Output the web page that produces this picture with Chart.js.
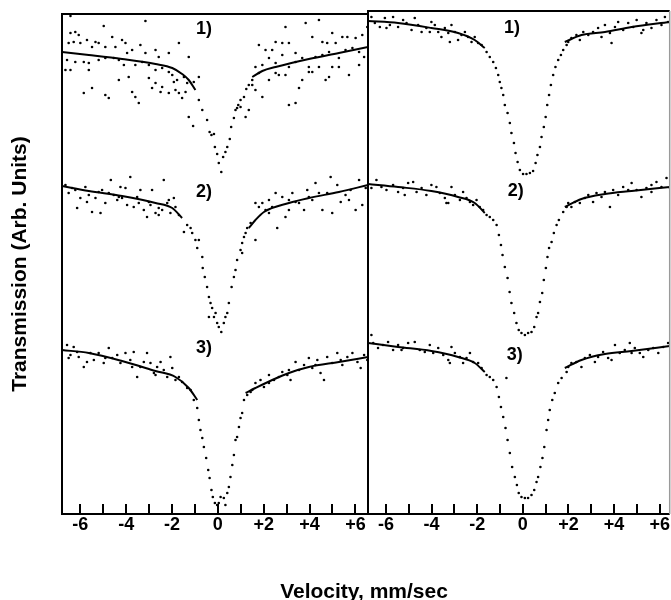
<!DOCTYPE html>
<html><head><meta charset="utf-8">
<script src="https://cdn.jsdelivr.net/npm/chart.js@4.4.1/dist/chart.umd.min.js"></script>
<style>
html,body{margin:0;padding:0;background:#fff;}
#wrap{position:relative;width:671px;height:600px;overflow:hidden;background:#fff;}
canvas{position:absolute;top:0;}
#xt{position:absolute;left:164px;top:580px;width:400px;text-align:center;font:bold 21px/21px "Liberation Sans",Arial,sans-serif;color:#000;white-space:nowrap;}
</style></head><body>
<div id="wrap">
<canvas id="cl" width="370" height="600" style="left:0"></canvas>
<canvas id="cr" width="305" height="600" style="left:366px"></canvas>
<div id="xt">Velocity, mm/sec</div>
</div>
<script>
// ---- axis ticks ----
const tickValues = [-6,-5,-4,-3,-2,-1,0,1,2,3,4,5,6];
const tickLabels = ['-6','','-4','','-2','','0','','+2','','+4','','+6'];
const xTitle = 'Velocity, mm/sec';
const yTitle = 'Transmission (Arb. Units)';
const panelText = ['1)','2)','3)'];
const leftLabelV = [-0.60,-0.60,-0.60];
const leftLabelT = [485,322,166];
const rightLabelV = [-0.48,-0.31,-0.35];
const rightLabelT = [486,323,159];

// ---- LEFT panel, spectrum 1 ----
const L1_v = [-6.43,-6.22,-6.07,-6.51,-6.29,-6.0,-5.71,-5.49,-5.34,-5.20,-4.91,-4.61,-4.47,-4.18,-4.03,-3.96,-3.74,-3.38,-3.16,-2.72,-2.58,-2.14,-1.70,-1.27,
 -6.58,-6.22,-5.85,-5.63,-5.20,-4.91,-4.54,-4.32,-4.10,-3.60,-3.30,-3.01,-2.72,-2.43,-2.14,-1.99,-1.78,-1.48,-1.34,-1.05,-0.83,
 -6.65,-6.43,-5.85,-5.63,-5.49,-4.91,-4.76,-4.32,-3.89,-3.74,-3.60,-3.45,-3.01,-2.87,-2.72,-2.50,-2.43,-2.14,-1.92,-1.85,-1.70,-1.56,-1.41,
 -6.43,-4.98,-3.16,
 -1.27,-1.08,-0.83,-0.68,-0.47,-0.36,-0.28,-0.17,-0.13,-0.03,0.04,0.15,0.23,0.33,0.41,0.52,0.58,0.70,0.77,0.89,0.99,1.14,1.24,1.35,1.50,
 1.79,2.08,2.37,2.52,2.81,2.95,3.10,3.39,3.83,4.12,4.41,4.56,4.77,4.99,5.14,5.43,5.65,6.01,6.30,6.52,
 1.64,1.94,2.23,2.52,2.81,3.10,3.39,3.68,3.97,4.26,4.56,4.85,5.28,5.57,5.87,6.16,6.38,
 1.50,1.64,1.79,1.94,2.23,2.52,2.66,2.95,3.10,3.39,3.54,3.68,3.97,4.12,4.41,4.70,4.85,4.99,5.28,5.72,6.16,1.35,1.21,0.84,0.99];
const L1_t = [481,482,479,471,472,471,474,467,472,471,467,477,467,474,471,461,464,469,461,464,457,461,471,457,
 454,452,452,451,454,456,456,454,449,449,452,449,444,446,442,439,434,437,431,432,437,
 444,444,421,444,426,419,416,434,437,422,417,411,436,426,431,422,427,421,432,424,421,416,422,
 498,488,493,
 397,388,414,404,394,382,379,380,367,360,351,342,357,362,367,375,387,396,404,409,414,417,425,429,434,
 469,464,464,472,471,487,471,461,491,477,494,472,471,481,471,477,477,476,479,487,
 447,449,456,451,459,447,452,456,447,457,459,462,456,464,466,462,457,
 429,424,441,417,434,441,439,439,409,411,426,434,442,442,447,434,437,447,447,439,449,404,397,406,407];
const L1_fit_v = [-6.80,-5.63,-4.18,-2.72,-1.99,-1.56,-1.27,-0.98, 0, 1.50,1.94,2.52,3.97,5.28,6.55];
const L1_fit_t = [462,459,455,450,446,440,434,424, null, 437,443,447,455,461,467];

// ---- LEFT panel, spectrum 2 ----
const L2_v = [-6.65,-6.51,-6.36,-6.14,-6.0,-5.78,-5.63,-5.49,-5.34,-5.12,-5.05,-4.91,-4.67,-4.54,-4.39,-4.25,-4.03,-3.96,-3.82,-3.67,-3.52,-3.38,-3.23,-3.09,-3.01,-2.87,-2.72,-2.58,-2.43,-2.36,-2.21,-2.14,-2.07,-1.92,-1.85,-1.70,-5.20,-4.76,-4.32,-3.45,-2.94,-2.58,-6.22,-5.71,-4.18,
 -1.48,-1.34,-1.19,-1.12,-0.98,-0.90,-0.83,-0.68,-0.66,-0.57,-0.47,-0.39,-0.32,-0.25,-0.39,-0.17,-0.10,-0.03,0.04,0.15,0.26,0.33,0.41,0.48,0.60,0.70,0.77,0.84,0.99,1.06,1.14,1.21,1.28,1.43,1.64,1.06,
 1.64,1.79,2.08,2.23,2.37,2.52,2.59,2.81,2.95,3.10,3.25,3.39,3.54,3.76,3.90,4.12,4.26,4.41,4.56,4.77,4.99,5.21,5.36,5.57,5.79,6.01,6.16,6.30,6.45,4.92,2.23,3.10,3.97,5.72,1.94];
const L2_t = [329,321,326,306,316,327,319,302,316,301,324,311,334,319,314,327,326,309,337,307,317,324,304,297,312,324,301,299,304,334,311,314,301,316,307,299,322,321,317,311,309,306,324,312,316,
 282,289,286,281,274,266,274,257,246,237,227,217,211,206,197,197,201,191,187,182,191,197,201,211,227,237,244,254,264,271,277,281,286,291,274,261,
 311,307,304,301,307,321,286,317,297,304,321,312,311,304,324,314,331,321,304,321,301,329,312,319,324,304,334,309,326,337,314,314,317,314,311];
const L2_fit_v = [-6.80,-5.63,-4.18,-2.72,-1.99,-1.56, 0, 1.35,1.64,2.01,3.10,3.97,5.28,6.55];
const L2_fit_t = [328,323,318,311,306,296, null, 286,294,302,311,316,322,329];

// ---- LEFT panel, spectrum 3 ----
const L3_v = [-6.58,-6.43,-6.29,-6.14,-5.85,-5.71,-5.56,-5.41,-5.20,-4.98,-4.76,-4.61,-4.39,-4.25,-4.03,-3.82,-3.67,-3.52,-3.38,-3.23,-3.09,-2.94,-2.79,-2.65,-2.50,-2.36,-2.21,-2.07,-1.99,-1.85,-1.70,-1.56,-1.34,-2.72,-3.74,-4.91,-6.07,-6.51,
 -1.19,-1.05,-0.90,-0.83,-0.76,-0.68,-0.61,-0.51,-0.42,-0.36,-0.28,-0.22,-0.13,-0.03,0.04,0.12,0.26,0.33,0.41,0.48,0.55,0.63,0.70,0.77,0.84,0.92,0.99,1.06,1.14,1.28,1.43,
 1.50,1.64,1.86,2.01,2.23,2.45,2.66,2.81,3.03,3.17,3.39,3.54,3.76,3.97,4.12,4.34,4.48,4.63,4.77,4.99,5.21,5.43,5.65,5.87,6.09,6.23,6.38,6.52,2.23,3.10,4.26,5.36];
const L3_t = [169,159,167,162,147,152,161,154,161,151,166,156,159,151,161,154,162,137,147,152,161,151,141,147,152,144,137,157,146,134,137,132,126,139,147,156,157,156,
 124,114,106,94,84,76,67,56,44,36,24,17,11,9,11,17,16,9,21,27,37,49,59,74,77,87,96,101,114,119,122,
 124,131,134,127,139,134,137,142,139,134,152,144,149,156,146,154,141,134,157,151,161,149,157,161,152,146,159,154,131,144,149,154];
const L3_fit_v = [-6.80,-5.63,-4.18,-2.72,-1.85,-1.27,-0.90, 0, 1.21,1.64,2.37,3.10,3.97,5.28,6.55];
const L3_fit_t = [164,161,153,143,137,126,114, null, 121,126,134,141,147,152,157];

// ---- RIGHT panel, spectrum 1 ----
const R1_v = [-1.59,-1.45,-1.30,-1.18,-1.08,-1.01,-0.94,-0.86,-0.79,-0.67,-0.57,-0.50,-0.39,-0.32,-0.23,-0.13,0.01,0.16,0.31,0.45,0.56,0.64,0.75,0.82,0.92,1.00,1.07,1.15,1.23,1.33,1.43,1.55,1.67,1.77,1.92,
 -6.64,-6.49,-6.27,-6.05,-5.83,-5.69,-5.47,-5.25,-5.10,-4.88,-4.74,-4.59,-4.44,-4.23,-4.01,-3.86,-3.71,-3.57,-3.42,-3.27,-3.13,-2.98,-2.84,-2.69,-2.54,-2.40,-2.25,-2.11,-1.96,-1.81,-3.20,-4.08,-5.98,
 1.99,2.13,2.35,2.50,2.65,2.87,3.08,3.30,3.45,3.60,3.82,4.04,4.18,4.40,4.62,4.84,4.99,5.20,5.42,5.64,5.86,6.08,6.23,6.37,3.89,5.28];
const R1_t = [462,457,452,446,439,432,426,419,409,401,391,381,371,361,352,344,340,340,341,343,351,359,367,377,387,397,409,419,429,439,447,454,459,464,469,
 497,491,487,496,489,497,487,494,491,484,496,489,482,486,492,489,482,477,486,481,489,482,474,479,482,477,472,477,471,469,472,482,486,
 472,476,479,474,482,479,482,486,477,489,481,487,492,484,491,487,494,481,491,486,494,489,497,492,471,484];
const R1_fit_v = [-6.79,-5.47,-4.01,-2.84,-2.11,-1.67, 0, 1.84,2.57,3.60,4.77,6.44];
const R1_fit_t = [493,491,486,481,474,466, null, 472,479,482,487,492];

// ---- RIGHT panel, spectrum 2 ----
const R2_v = [-1.59,-1.45,-1.30,-1.15,-1.05,-0.96,-0.89,-0.79,-0.67,-0.58,-0.50,-0.38,-0.28,-0.18,-0.06,0.09,0.23,0.38,0.50,0.60,0.67,0.75,0.85,0.92,1.01,1.08,1.15,1.26,1.36,1.48,1.58,1.77,1.92,
 -6.64,-6.42,-6.20,-5.98,-5.69,-5.47,-5.25,-5.03,-4.81,-4.66,-4.44,-4.23,-4.01,-3.79,-3.64,-3.42,-3.27,-3.13,-2.98,-2.76,-2.62,-2.47,-2.32,-2.18,-2.03,-1.89,-1.74,-3.35,-5.18,
 1.99,2.13,2.28,2.50,2.72,2.87,3.08,3.23,3.45,3.60,3.82,3.96,4.18,4.40,4.62,4.77,4.99,5.20,5.42,5.64,5.86,6.08,6.30,6.45,5.64];
const R2_t = [299,297,294,289,279,269,259,247,236,222,211,201,191,184,181,179,181,182,187,197,201,212,221,234,246,257,266,272,281,289,294,302,307,
 326,334,327,324,329,322,326,331,332,322,326,319,329,327,321,316,311,327,319,314,322,316,312,309,314,307,304,311,319,
 311,307,312,311,316,319,312,321,317,322,307,324,319,327,324,331,324,317,326,322,332,327,336,326,329];
const R2_fit_v = [-6.79,-5.47,-4.01,-2.84,-2.11,-1.67, 0, 1.84,2.57,3.60,4.77,6.44];
const R2_fit_t = [330,327,323,317,311,301, null, 307,315,320,323,327];

// ---- RIGHT panel, spectrum 3 ----
const R3_v = [-1.59,-1.45,-1.30,-1.15,-1.05,-0.96,-0.86,-0.76,-0.67,-0.57,-0.47,-0.35,-0.26,-0.18,-0.06,0.09,0.23,0.38,0.50,0.60,0.67,0.77,0.86,0.94,1.04,1.11,1.18,1.29,1.40,1.55,1.70,1.92,-0.72,
 -6.64,-6.56,-6.35,-6.13,-5.91,-5.69,-5.47,-5.25,-5.03,-4.74,-4.52,-4.30,-4.08,-3.93,-3.71,-3.49,-3.27,-3.13,-2.98,-2.76,-2.62,-2.47,-2.32,-2.18,-1.96,-1.81,-3.20,-5.32,
 1.99,2.13,2.35,2.57,2.72,2.94,3.16,3.30,3.52,3.74,3.89,4.04,4.25,4.47,4.69,4.91,5.13,5.28,5.50,5.72,5.94,6.15,6.37,4.77];
const R3_t = [139,137,134,127,117,107,97,86,74,61,47,37,29,21,17,16,16,19,24,32,37,47,56,67,84,94,104,114,121,131,136,142,136,
 179,171,166,169,172,164,169,166,171,172,164,162,169,161,166,159,154,167,161,157,151,156,161,152,151,146,151,164,
 147,151,152,147,156,159,152,157,162,156,154,169,161,164,171,166,161,157,164,166,161,167,171,161];
const R3_fit_v = [-6.79,-5.47,-4.01,-2.84,-2.11,-1.67, 0, 1.84,2.57,3.60,4.77,6.44];
const R3_fit_t = [171,167,163,157,151,142, null, 146,154,160,163,168];

// ---- helpers ----
const FONT = '"Liberation Sans", Arial, Helvetica, sans-serif';
function pts(vs, ts) { return vs.map((v, i) => ({ x: v, y: ts[i] })); }
function scatterDs(vs, ts) {
  return { data: pts(vs, ts), showLine: false, pointRadius: 1.3, pointHoverRadius: 0,
    pointBackgroundColor: '#000', pointBorderWidth: 0, order: 1 };
}
function fitDs(vs, ts) {
  return { data: pts(vs, ts), showLine: true, spanGaps: false, borderColor: '#000', borderWidth: 2,
    pointRadius: 0, tension: 0.4, cubicInterpolationMode: 'monotone', order: 2 };
}

const framePlugin = {
  id: 'frame',
  afterDraw(chart, args, opts) {
    const a = chart.chartArea, ctx = chart.ctx;
    ctx.save();
    ctx.lineWidth = 2;
    ctx.strokeStyle = '#000';
    ctx.beginPath();
    ctx.moveTo(a.right, a.top); ctx.lineTo(a.left, a.top); ctx.lineTo(a.left, a.bottom); ctx.lineTo(a.right, a.bottom);
    ctx.stroke();
    ctx.strokeStyle = opts.rightColor || '#000';
    ctx.lineWidth = opts.rightWidth || 2;
    ctx.beginPath(); ctx.moveTo(a.right, a.top); ctx.lineTo(a.right, a.bottom); ctx.stroke();
    ctx.restore();
  }
};
const labelPlugin = {
  id: 'panelLabels',
  afterDatasetsDraw(chart, args, opts) {
    const ctx = chart.ctx, xs = chart.scales.x, ys = chart.scales.y;
    ctx.save();
    ctx.font = 'bold 18px ' + FONT;
    ctx.fillStyle = '#000';
    ctx.textAlign = 'center';
    ctx.textBaseline = 'middle';
    opts.text.forEach((t, i) => ctx.fillText(t, xs.getPixelForValue(opts.v[i]), ys.getPixelForValue(opts.t[i])));
    ctx.restore();
  }
};

function xScale(min, max) {
  return {
    type: 'linear', position: 'bottom', min: min, max: max,
    afterBuildTicks: (s) => { s.ticks = tickValues.map(v => ({ value: v })); },
    afterFit: (s) => { s.height = 86; s.paddingLeft = 0; s.paddingRight = 0; },
    ticks: {
      autoSkip: false, maxRotation: 0, includeBounds: false, padding: 10, color: '#000',
      font: { family: FONT, size: 18, weight: 'bold' },
      callback: (v) => { const i = tickValues.indexOf(v); return i >= 0 ? tickLabels[i] : ''; }
    },
    grid: { display: true, drawOnChartArea: false, drawTicks: true, tickLength: -10, color: '#000', lineWidth: 2 },
    border: { display: false }
  };
}

function makeChart(id, datasets, cfg) {
  return new Chart(document.getElementById(id), {
    type: 'scatter',
    data: { datasets: datasets },
    options: {
      responsive: false, animation: false, devicePixelRatio: 1,
      events: [],
      layout: { padding: cfg.padding },
      plugins: {
        legend: { display: false }, tooltip: { enabled: false },
        frame: cfg.frame, panelLabels: cfg.labels
      },
      scales: { x: xScale(cfg.xmin, cfg.xmax), y: cfg.y }
    },
    plugins: [framePlugin, labelPlugin]
  });
}

makeChart('cl', [
  scatterDs(L1_v, L1_t), fitDs(L1_fit_v, L1_fit_t),
  scatterDs(L2_v, L2_t), fitDs(L2_fit_v, L2_fit_t),
  scatterDs(L3_v, L3_t), fitDs(L3_fit_v, L3_fit_t)
], {
  padding: { top: 14, right: 2, left: 0, bottom: 0 },
  xmin: -6.80, xmax: 6.55,
  frame: {},
  labels: { text: panelText, v: leftLabelV, t: leftLabelT },
  y: {
    type: 'linear', min: 0, max: 500,
    afterFit: (s) => { s.width = 62; },
    ticks: { display: false }, grid: { display: false }, border: { display: false },
    title: { display: true, text: yTitle, color: '#000', padding: { top: 8, bottom: 0 },
      font: { family: FONT, size: 21, weight: 'bold' } }
  }
});

makeChart('cr', [
  scatterDs(R1_v, R1_t), fitDs(R1_fit_v, R1_fit_t),
  scatterDs(R2_v, R2_t), fitDs(R2_fit_v, R2_fit_t),
  scatterDs(R3_v, R3_t), fitDs(R3_fit_v, R3_fit_t)
], {
  padding: { top: 11, right: 1, left: 2, bottom: 0 },
  xmin: -6.79, xmax: 6.44,
  frame: { rightColor: '#9a9a9a', rightWidth: 1.5 },
  labels: { text: panelText, v: rightLabelV, t: rightLabelT },
  y: { type: 'linear', display: false, min: 0, max: 503 }
});
</script>
</body></html>
